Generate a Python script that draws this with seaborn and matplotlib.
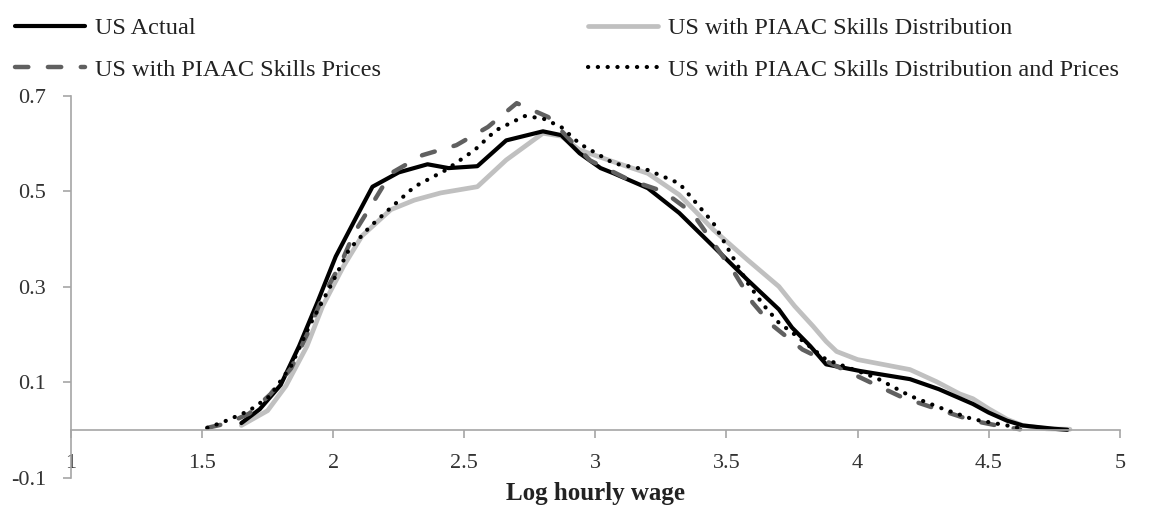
import numpy as np
import pandas as pd
import matplotlib
matplotlib.use("Agg")
import matplotlib.pyplot as plt
import seaborn as sns

sns.set_style("white")
plt.rcParams['font.family'] = ['Liberation Serif', 'DejaVu Serif']

# 数据：对数小时工资的核密度
x_actual = [1.65, 1.72, 1.80, 1.87, 1.94, 2.01, 2.09, 2.15, 2.25, 2.36, 2.44, 2.55, 2.66, 2.80,
            2.87, 2.94, 3.02, 3.07, 3.20, 3.32, 3.45, 3.58, 3.70, 3.75, 3.82, 3.88, 4.01, 4.20,
            4.31, 4.44, 4.50, 4.57, 4.63, 4.75, 4.80]
y_actual = [0.015, 0.044, 0.095, 0.176, 0.268, 0.364, 0.448, 0.510, 0.540, 0.557, 0.549, 0.553,
            0.607, 0.626, 0.618, 0.580, 0.549, 0.538, 0.507, 0.455, 0.385, 0.315, 0.253, 0.215,
            0.176, 0.138, 0.124, 0.107, 0.086, 0.055, 0.037, 0.020, 0.010, 0.003, 0.001]

x_distr = [1.65, 1.75, 1.82, 1.90, 1.96, 2.04, 2.11, 2.22, 2.31, 2.41, 2.55, 2.66, 2.80, 2.87,
           2.94, 3.07, 3.20, 3.32, 3.45, 3.58, 3.70, 3.76, 3.83, 3.88, 3.92, 4.00, 4.20, 4.30,
           4.39, 4.44, 4.50, 4.57, 4.63, 4.72, 4.81]
y_distr = [0.010, 0.041, 0.093, 0.176, 0.260, 0.344, 0.407, 0.462, 0.482, 0.497, 0.510, 0.566,
           0.622, 0.616, 0.587, 0.562, 0.538, 0.493, 0.420, 0.357, 0.301, 0.260, 0.218, 0.186,
           0.165, 0.148, 0.127, 0.102, 0.076, 0.066, 0.045, 0.023, 0.010, 0.003, 0.002]

x_prices = [1.52, 1.60, 1.68, 1.76, 1.84, 1.90, 1.96, 2.03, 2.08, 2.15, 2.22, 2.34, 2.47, 2.59,
            2.70, 2.82, 2.89, 2.98, 3.13, 3.26, 3.37, 3.45, 3.53, 3.60, 3.67, 3.79, 3.92, 4.05,
            4.17, 4.30, 4.44, 4.55, 4.62]
y_prices = [0.005, 0.015, 0.035, 0.075, 0.130, 0.200, 0.280, 0.350, 0.413, 0.475, 0.538, 0.576,
            0.597, 0.635, 0.685, 0.656, 0.616, 0.565, 0.524, 0.500, 0.455, 0.392, 0.330, 0.267,
            0.222, 0.169, 0.134, 0.100, 0.069, 0.045, 0.020, 0.008, 0.002]

x_both = [1.52, 1.58, 1.68, 1.76, 1.84, 1.91, 1.99, 2.06, 2.14, 2.22, 2.31, 2.43, 2.54, 2.62,
          2.73, 2.80, 2.87, 2.94, 3.07, 3.20, 3.32, 3.45, 3.58, 3.64, 3.70, 3.75, 3.88, 4.07,
          4.20, 4.33, 4.44, 4.57, 4.63]
y_both = [0.005, 0.017, 0.041, 0.072, 0.135, 0.219, 0.302, 0.378, 0.426, 0.466, 0.510, 0.545,
          0.587, 0.628, 0.658, 0.653, 0.635, 0.600, 0.559, 0.545, 0.517, 0.434, 0.309, 0.263,
          0.225, 0.205, 0.148, 0.110, 0.072, 0.044, 0.023, 0.010, 0.003]

labels = ["US Actual", "US with PIAAC Skills Distribution",
          "US with PIAAC Skills Prices", "US with PIAAC Skills Distribution and Prices"]

fig = plt.figure(figsize=(11.5, 5.05), dpi=100)
ax = fig.add_axes([0.0617, 0.0535, 0.912, 0.7564])

# 按图层顺序绘制：浅灰、黑、虚线、点线
sns.lineplot(x=x_distr, y=y_distr, ax=ax, color="#c0c0c0", lw=3.4, sort=False,
             label=labels[1], solid_capstyle="round")
sns.lineplot(x=x_actual, y=y_actual, ax=ax, color="black", lw=3.0, sort=False,
             label=labels[0], solid_capstyle="round")
sns.lineplot(x=x_prices, y=y_prices, ax=ax, color="#606060", lw=3.2, sort=False,
             label=labels[2], dashes=False)
sns.lineplot(x=x_both, y=y_both, ax=ax, color="black", lw=3.0, sort=False,
             label=labels[3], dashes=False)

lines = ax.get_lines()
lines[2].set_dashes([3.0, 4.4])
lines[2].set_dash_capstyle("round")
lines[3].set_dashes([0.05, 2.3])
lines[3].set_dash_capstyle("round")
ax.get_legend().remove()

# 坐标轴
ax.set_xlim(1, 5)
ax.set_ylim(-0.1, 0.7)
ax.set_xticks(np.arange(1, 5.01, 0.5))
ax.set_xticklabels(["1", "1.5", "2", "2.5", "3", "3.5", "4", "4.5", "5"])
ax.set_yticks([-0.1, 0.1, 0.3, 0.5, 0.7])
ax.set_yticklabels(["-0.1", "0.1", "0.3", "0.5", "0.7"])

for s in ["top", "right"]:
    ax.spines[s].set_visible(False)
ax.spines["bottom"].set_position(("data", 0))
for s in ["bottom", "left"]:
    ax.spines[s].set_color("#a6a6a6")
    ax.spines[s].set_linewidth(1.2)

ax.tick_params(axis="both", which="both", direction="out", length=6, width=1.2,
               color="#a6a6a6", labelcolor="#333333", labelsize=16)
ax.tick_params(axis="x", pad=11, bottom=True)
ax.tick_params(axis="y", pad=12, left=True)

ax.set_xlabel("Log hourly wage", fontsize=18, fontweight="bold", color="#222222")
ax.set_ylabel("")
ax.xaxis.set_label_coords(0.5, -0.04)
ax.xaxis.label.set_va("center")

# 图例：两列
h = {l.get_label(): l for l in lines}
leg_kw = dict(frameon=False, fontsize=17.5, handlelength=2.9, handletextpad=0.4,
              labelspacing=0.81, borderpad=0, borderaxespad=0, loc="upper left")
fig.legend([h[labels[0]], h[labels[2]]], [labels[0], labels[2]],
           bbox_to_anchor=(0.013, 0.966), **leg_kw)
fig.legend([h[labels[1]], h[labels[3]]], [labels[1], labels[3]],
           bbox_to_anchor=(0.511, 0.966), **leg_kw)
for lg in fig.legends:
    for t in lg.get_texts():
        t.set_color("#222222")

fig.savefig("out.png", dpi=100)
